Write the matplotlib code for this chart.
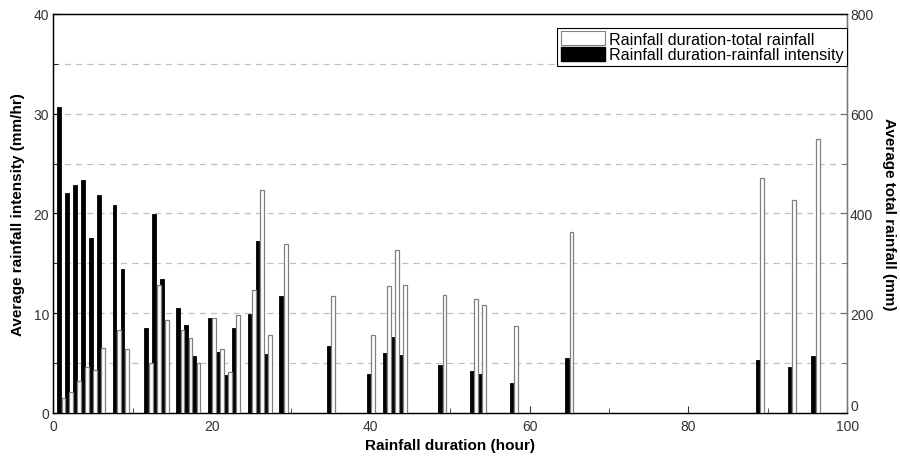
import matplotlib
matplotlib.use("Agg")
import matplotlib.pyplot as plt
from matplotlib.patches import Patch

# rainfall duration (hour)
hours = [1, 2, 3, 4, 5, 6, 8, 9, 12, 13, 14, 16, 17, 18, 20, 21, 22, 23,
         25, 26, 27, 29, 35, 40, 42, 43, 44, 49, 53, 54, 58, 65, 89, 93, 96]
# average rainfall intensity (mm/hr)
intensity = [30.7, 22.1, 22.9, 23.4, 17.5, 21.9, 20.9, 14.4, 8.5, 19.9, 13.4,
             10.5, 8.8, 5.7, 9.5, 6.1, 3.8, 8.5, 9.9, 17.2, 5.9, 11.7, 6.7,
             3.9, 6.0, 7.6, 5.8, 4.8, 4.2, 3.9, 3.0, 5.5, 5.3, 4.6, 5.7]
# average total rainfall (mm)
total = [30, 43, 65, 92, 86, 130, 167, 129, 100, 257, 186, 167, 150, 101, 190,
         128, 83, 196, 247, 448, 157, 339, 235, 156, 254, 326, 257, 237, 229,
         216, 175, 362, 472, 428, 549]

plt.rcParams["font.family"] = ["Liberation Sans", "DejaVu Sans"]

fig = plt.figure(figsize=(9, 4.6), dpi=100)
ax = fig.add_axes([0.0592, 0.1, 0.8822, 0.8674])
ax2 = ax.twinx()

w = 0.48
off = 0.28
ax.bar([h - off for h in hours], intensity, width=w, color="black",
       edgecolor="black", linewidth=0.6, zorder=3)
ax2.bar([h + off for h in hours], total, width=w, color="white",
        edgecolor="#808080", linewidth=0.9, zorder=3)

ax.set_xlim(0, 100)
ax.set_ylim(0, 40)
ax2.set_ylim(0, 800)

ax.set_xticks(range(0, 101, 20))
ax.set_xticks(range(0, 101, 10), minor=True)
ax.set_yticks(range(0, 41, 10))
ax.set_yticks(range(0, 41, 5), minor=True)
ax2.set_yticks(range(0, 801, 200))
ax2.set_yticks(range(0, 801, 100), minor=True)

for y in range(5, 40, 5):
    ax.axhline(y, color="#c0c0c0", linestyle=(0, (5, 4)), linewidth=0.9, zorder=1)

tick_kw = dict(direction="in", labelsize=10, labelcolor="#333333")
ax.tick_params(axis="x", which="major", length=5, pad=4, **tick_kw)
ax.tick_params(axis="y", which="major", length=5, pad=3, **tick_kw)
ax.tick_params(axis="both", which="minor", length=3.5, direction="in")
ax.tick_params(axis="x", which="both", color="#333333")
ax2.tick_params(axis="y", which="major", length=5, pad=2, color="#666666", **tick_kw)
ax2.tick_params(axis="y", which="minor", length=3.5, direction="in", color="#666666")
ax2.get_yticklabels()[0].set_va("bottom")

ax.spines["top"].set_color("black")
ax.spines["left"].set_color("black")
ax.spines["bottom"].set_color("#555555")
ax2.spines["right"].set_color("#777777")
for s in ax2.spines.values():
    s.set_linewidth(1.0)

ax.set_xlabel("Rainfall duration (hour)", fontsize=11, fontweight="bold", labelpad=4)
ax.set_ylabel("Average rainfall intensity (mm/hr)", fontsize=11, fontweight="bold", labelpad=6)
ax2.set_ylabel("Average total rainfall (mm)", fontsize=11, fontweight="bold",
               rotation=270, labelpad=16)

handles = [Patch(facecolor="white", edgecolor="#808080", linewidth=0.8),
           Patch(facecolor="black", edgecolor="black")]
leg = ax2.legend(handles, ["Rainfall duration-total rainfall",
                           "Rainfall duration-rainfall intensity"],
                 loc="upper right", bbox_to_anchor=(0.9995, 0.965),
                 fontsize=11.6, frameon=True, fancybox=False, framealpha=1,
                 handlelength=2.75, handleheight=0.95, labelspacing=0.02,
                 handletextpad=0.25, borderpad=0.2, borderaxespad=0.0)
leg.get_frame().set_edgecolor("black")
leg.get_frame().set_linewidth(0.8)
leg.set_zorder(10)

fig.savefig("out.png", dpi=100)
